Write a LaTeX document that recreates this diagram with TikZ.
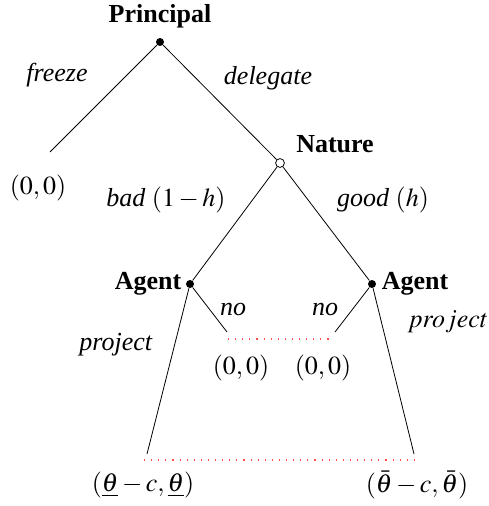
\documentclass[tikz,border=0pt]{standalone}
\usepackage{mathptmx}
\usepackage[no-math]{fontspec}
\setmainfont{Liberation Serif}
\begin{document}
\begin{tikzpicture}[x=0.5pt,y=-0.5pt,
    font=\fontsize{13}{15}\selectfont,
    dec/.style={circle,fill,inner sep=0pt,minimum size=4pt},
    chance/.style={circle,draw,fill=white,inner sep=0pt,minimum size=4.4pt,line width=0.4pt},
    info/.style={red!70,line width=0.55pt,dash pattern=on 0.55pt off 3pt}]
  \useasboundingbox (0,0) rectangle (488,506);
  \draw
    (160,42) node[dec] (p){}
    (50,152) coordinate (f)
    (280,163) node[chance] (n){}
    (190,284) node[dec] (al){}
    (372,284) node[dec] (ar){}
    (227,332) coordinate (nl)
    (335,332) coordinate (nr)
    (147,454) coordinate (pl)
    (414,454) coordinate (pr)
    (228,339) coordinate (il)
    (332,339) coordinate (ir)
    (144,460) coordinate (jl)
    (414,460) coordinate (jr);
  \begin{scope}[-,line width=0.4pt]
    \draw (p) to (f);
    \draw (p) to (n);
    \draw (n) to (al);
    \draw (n) to (ar);
    \draw (al) to (nl);
    \draw (ar) to (nr);
    \draw (al) to (pl);
    \draw (ar) to (pr);
  \end{scope}
  \draw[info] (il) -- (ir);
  \draw[info] (jl) -- (jr);
  % labels
  \node (pname) at (160,16) {\textbf{Principal}};
  \node (nname) at (335,144) {\textbf{Nature}};
  \node (alname) at (148,284) {\textbf{Agent}};
  \node (arname) at (415,284) {\textbf{Agent}};
  \node (fr) at (57,75) {\textit{freeze}};
  \node (de) at (268,78) {\textit{delegate}};
  \node (bad) at (166,200) {\textit{bad} $(1-h)$};
  \node (good) at (383,200) {\textit{good} $(h)$};
  \node (nol) at (233,310) {\textit{no}};
  \node (nor) at (325,310) {\textit{no}};
  \node (prl) at (116,345) {\textit{project}};
  \node (prr) at (448,322) {$project$};
  \node (u0) at (38,188) {$(0,0)$};
  \node (u1) at (241,368) {$(0,0)$};
  \node (u2) at (323,368) {$(0,0)$};
  \node (u3) at (143,485) {$(\underline{\theta}-c,\underline{\theta})$};
  \node (u4) at (417,485) {$(\bar{\theta}-c,\bar{\theta})$};
\end{tikzpicture}
\end{document}
